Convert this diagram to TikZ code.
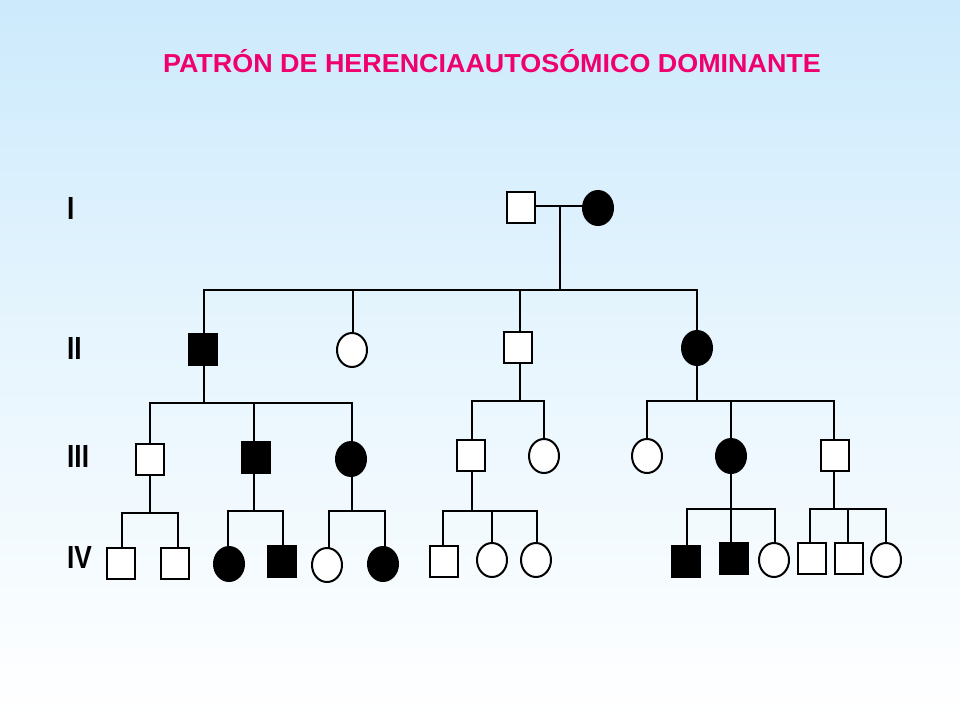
\documentclass[tikz,border=0pt]{standalone}
\usepackage{fontspec}
\setmainfont{Liberation Sans}
\usetikzlibrary{shapes.geometric}
\definecolor{titlepink}{RGB}{240,0,110}
\definecolor{bgtop}{RGB}{204,234,252}
\begin{document}
\begin{tikzpicture}[x=1pt,y=-1pt,
  male/.style={draw=black,line width=2pt,rectangle,minimum width=28pt,minimum height=31pt,inner sep=0pt,fill=white},
  female/.style={draw=black,line width=2pt,ellipse,minimum width=30pt,minimum height=34pt,inner sep=0pt,fill=white},
  aff/.style={fill=black},
  link/.style={draw=black,line width=2pt},
  genlabel/.style={anchor=base west,inner sep=0pt,font=\bfseries\fontsize{32}{36}\selectfont},
  titletext/.style={anchor=base,inner sep=0pt,text=titlepink,font=\bfseries\fontsize{26}{30}\selectfont}]
\useasboundingbox (0,0) rectangle (960,720);
\shade[top color=bgtop,bottom color=white,middle color=bgtop!45!white] (0,0) rectangle (960,720);
\node[titletext] (title) at (492,72.5) {\scalebox{1.035}[1]{PATRÓN DE HERENCIAAUTOSÓMICO DOMINANTE}};
% generation labels
\node[genlabel] (gI) at (67,219) {\scalebox{0.82}[1]{I}};
\node[genlabel] (gII) at (67,359) {\scalebox{0.82}[1]{II}};
\node[genlabel] (gIII) at (67,467) {\scalebox{0.82}[1]{III}};
\node[genlabel] (gIV) at (67,568) {\scalebox{0.82}[1]{IV}};
% coordinates of sibship bars
\coordinate (m1) at (560,206);
\coordinate (s1) at (560,290);
\coordinate (s2) at (204,403);
\coordinate (s3) at (520,401);
\coordinate (s4) at (697,401);
\coordinate (s5) at (150,513);
\coordinate (s6) at (254,511);
\coordinate (s7) at (352,511);
\coordinate (s8) at (472,511);
\coordinate (s9) at (731,509);
\coordinate (s10) at (834,509);
% links (drawn first)
\begin{scope}[link]
\draw (521,206) -- (598,206);
\draw (m1) -- (s1);
\draw (204,349) |- (s1) -| (697,348);
\draw (353,350) -- (353,290);
\draw (520,347) -- (520,290);
% gen II -> III
\draw (204,349) -- (s2);
\draw (150,459) |- (s2) -| (352,459);
\draw (254,457) -- (254,403);
\draw (520,347) -- (s3);
\draw (472,455) |- (s3) -| (544,456);
\draw (697,348) -- (s4);
\draw (647,456) |- (s4) -| (834,455);
\draw (731,456) -- (731,401);
% gen III -> IV
\draw (150,459) -- (s5);
\draw (122,563) |- (s5) -| (178,563);
\draw (254,457) -- (s6);
\draw (228,564) |- (s6) -| (283,561);
\draw (352,459) -- (s7);
\draw (329,565) |- (s7) -| (385,564);
\draw (472,455) -- (s8);
\draw (443,561) |- (s8) -| (537,560);
\draw (492,560) -- (492,511);
\draw (731,456) -- (s9);
\draw (687,561) |- (s9) -| (775,560);
\draw (731,558) -- (731,509);
\draw (834,455) -- (s10);
\draw (810,558) |- (s10) -| (886,560);
\draw (848,558) -- (848,509);
\end{scope}
% generation I
\node[male] (i1) at (521,207) {};
\node[female,aff] (i2) at (598,208) {};
% generation II
\node[male,aff] (ii1) at (203,349) {};
\node[female] (ii2) at (352,350) {};
\node[male] (ii3) at (518,347) {};
\node[female,aff] (ii4) at (697,348) {};
% generation III
\node[male] (iii1) at (150,459) {};
\node[male,aff] (iii2) at (256,457) {};
\node[female,aff] (iii3) at (351,459) {};
\node[male] (iii4) at (471,455) {};
\node[female] (iii5) at (544,456) {};
\node[female] (iii6) at (647,456) {};
\node[female,aff] (iii7) at (731,456) {};
\node[male] (iii8) at (835,455) {};
% generation IV
\node[male] (iv1) at (121,563) {};
\node[male] (iv2) at (175,563) {};
\node[female,aff] (iv3) at (229,564) {};
\node[male,aff] (iv4) at (282,561) {};
\node[female] (iv5) at (327,565) {};
\node[female,aff] (iv6) at (383,564) {};
\node[male] (iv7) at (444,561) {};
\node[female] (iv8) at (492,560) {};
\node[female] (iv9) at (536,560) {};
\node[male,aff] (iv10) at (686,561) {};
\node[male,aff] (iv11) at (734,558) {};
\node[female] (iv12) at (774,560) {};
\node[male] (iv13) at (812,558) {};
\node[male] (iv14) at (849,558) {};
\node[female] (iv15) at (886,560) {};
\end{tikzpicture}
\end{document}
